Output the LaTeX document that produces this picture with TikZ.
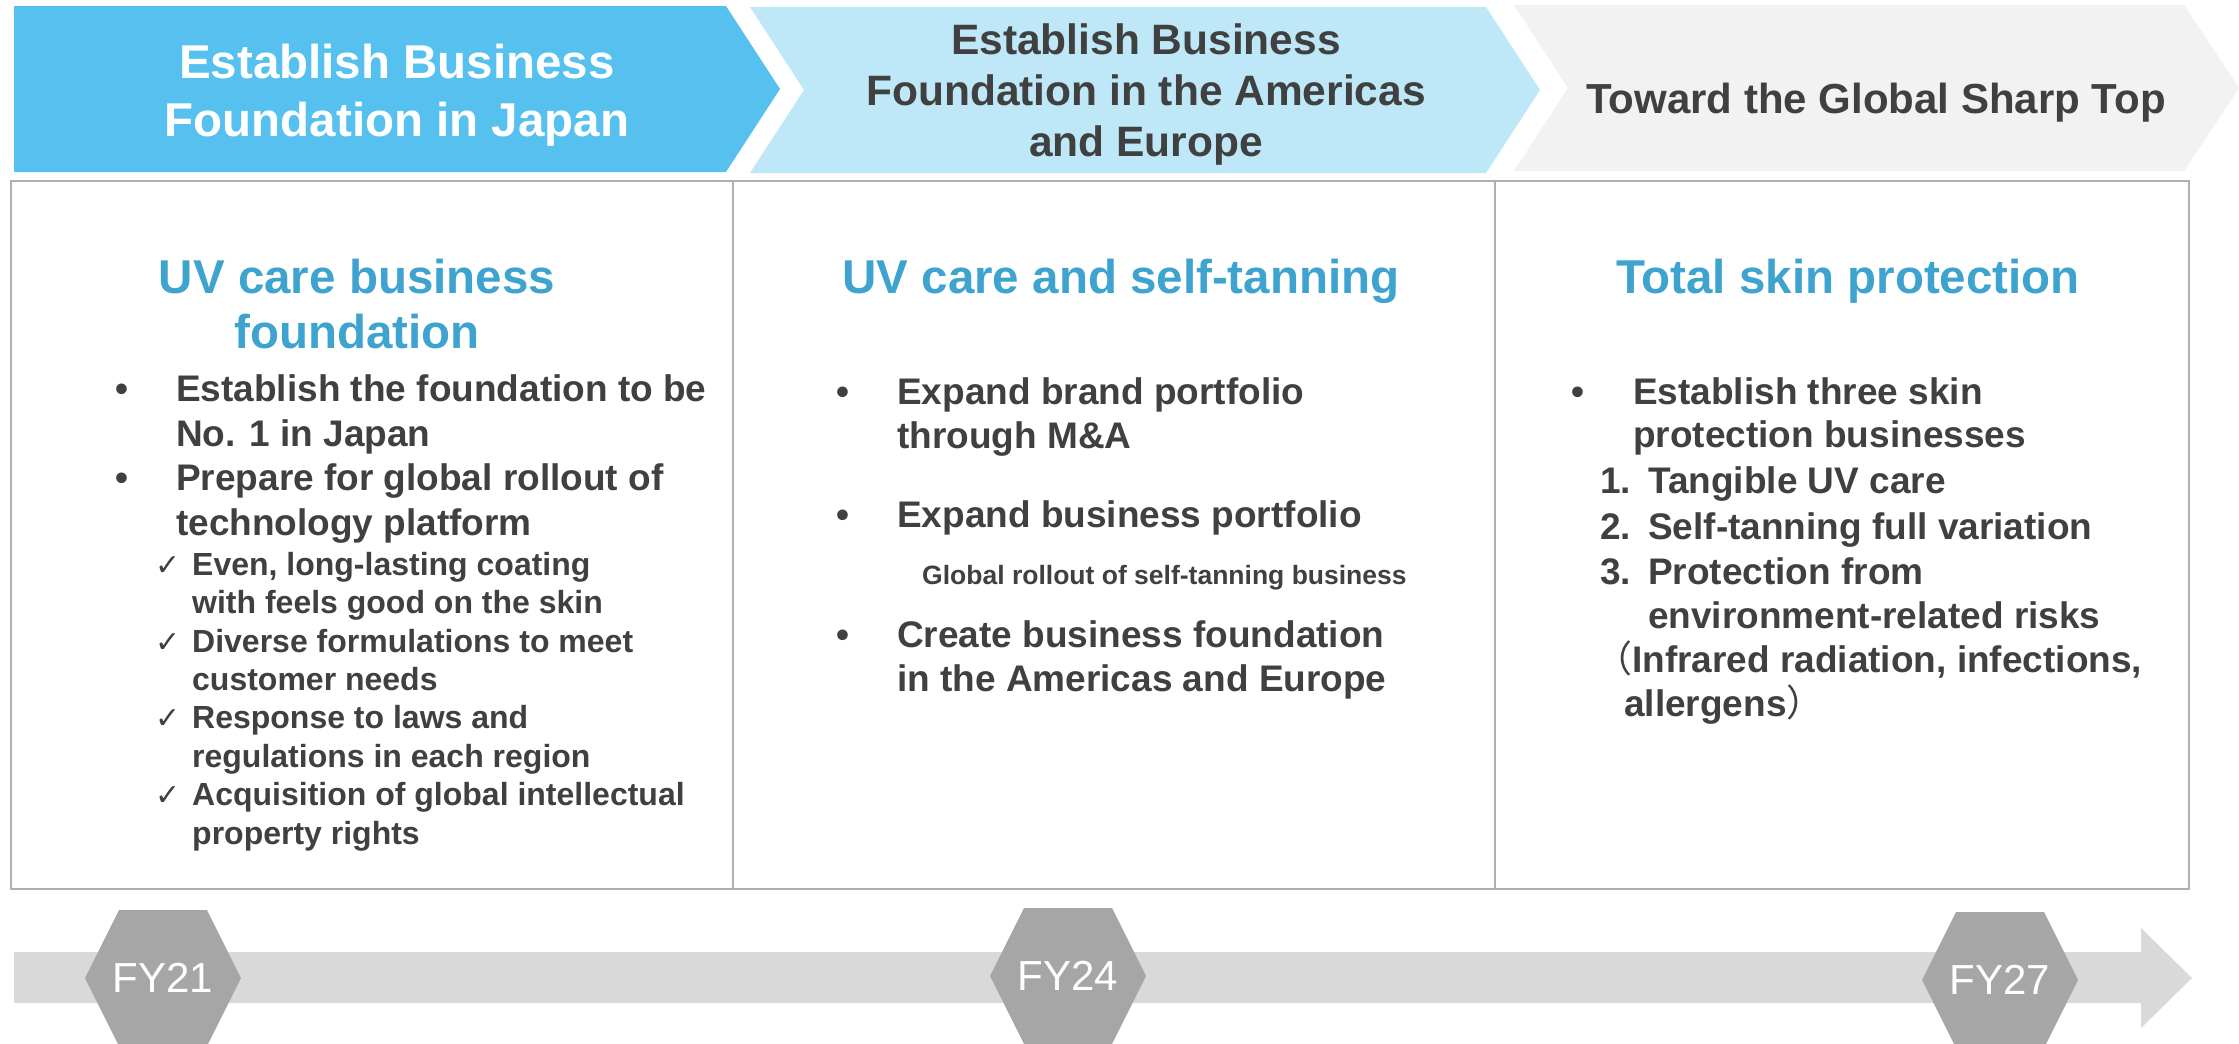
\documentclass[tikz,border=0pt]{standalone}
\usepackage{fontspec}
\setmainfont{Liberation Sans}
\newfontfamily\dejavu{DejaVu Sans}
\newfontfamily\cjk{Noto Sans CJK JP}
\definecolor{chevA}{HTML}{56C1EE}
\definecolor{chevB}{HTML}{BEE8F8}
\definecolor{chevC}{HTML}{F2F2F2}
\definecolor{headblue}{HTML}{3FA3D0}
\definecolor{txt}{HTML}{404040}
\definecolor{boxgray}{HTML}{AFAFAF}
\definecolor{tlgray}{HTML}{D9D9D9}
\definecolor{hexgray}{HTML}{A6A6A6}
\tikzset{
  chevtext/.style={anchor=base, inner sep=0pt, font=\fontsize{42.5}{51}\selectfont\bfseries, text=txt},
  headtext/.style={anchor=base, inner sep=0pt, font=\fontsize{47.5}{55}\selectfont\bfseries, text=headblue},
  bodytext/.style={anchor=base west, inner sep=0pt, font=\fontsize{37}{44}\selectfont\bfseries, text=txt},
  subtext/.style={anchor=base west, inner sep=0pt, font=\fontsize{32}{38}\selectfont\bfseries, text=txt},
  smalltext/.style={anchor=base west, inner sep=0pt, font=\fontsize{26.5}{32}\selectfont\bfseries, text=txt},
  checktext/.style={anchor=base west, inner sep=0pt, font=\dejavu\fontsize{30}{36}\selectfont, text=txt},
  fytext/.style={anchor=center, inner sep=0pt, font=\fontsize{42}{50}\selectfont, text=white},
  boxline/.style={draw=boxgray, line width=1.6pt}
}
\begin{document}
\begin{tikzpicture}[x=1pt,y=-1pt]
\useasboundingbox[fill=white] (0,0) rectangle (2239,1044);

% top chevrons
\fill[chevA] (14,6) -- (726,6) -- (780,89) -- (726,172) -- (14,172) -- cycle;
\fill[chevB] (750,7) -- (1486,7) -- (1540,90) -- (1486,173) -- (750,173) -- (804,90) -- cycle;
\fill[chevC] (1514,5) -- (2184,5) -- (2239,88) -- (2184,171) -- (1514,171) -- (1568,88) -- cycle;

\node[chevtext, text=white, font=\fontsize{47.5}{57}\selectfont\bfseries] (c1a) at (397,78) {Establish Business};
\node[chevtext, text=white, font=\fontsize{47.5}{57}\selectfont\bfseries] (c1b) at (397,136) {Foundation in Japan};
\node[chevtext] (c2a) at (1146,54) {Establish Business};
\node[chevtext] (c2b) at (1146,105) {Foundation in the Americas};
\node[chevtext] (c2c) at (1146,156) {and Europe};
\node[chevtext, font=\fontsize{42}{50}\selectfont\bfseries] (c3a) at (1876,113) {Toward the Global Sharp Top};

% content box
\draw[boxline] (11,181) rectangle (2189,889);
\draw[boxline] (733,181) -- (733,889);
\draw[boxline] (1495,181) -- (1495,889);

% headings
\node[headtext] (h1a) at (357,293) {UV care business};
\node[headtext] (h1b) at (357,348) {foundation};
\node[headtext] (h2) at (1121,293) {UV care and self-tanning};
\node[headtext] (h3) at (1848,293) {Total skin protection};

% column 1
\node[bodytext] (b1a) at (115,401) {•};
\node[bodytext] (t1a) at (176,401) {Establish the foundation to be};
\node[bodytext] (t1b) at (176,446) {No. 1 in Japan};
\node[bodytext] (b1b) at (115,490) {•};
\node[bodytext] (t1c) at (176,490) {Prepare for global rollout of};
\node[bodytext] (t1d) at (176,535) {technology platform};
\node[checktext] (k1) at (155,575) {✓};
\node[subtext] (s1a) at (192,575) {Even, long-lasting coating};
\node[subtext] (s1b) at (192,613) {with feels good on the skin};
\node[checktext] (k2) at (155,652) {✓};
\node[subtext] (s1c) at (192,652) {Diverse formulations to meet};
\node[subtext] (s1d) at (192,690) {customer needs};
\node[checktext] (k3) at (155,728) {✓};
\node[subtext] (s1e) at (192,728) {Response to laws and};
\node[subtext] (s1f) at (192,767) {regulations in each region};
\node[checktext] (k4) at (155,805) {✓};
\node[subtext] (s1g) at (192,805) {Acquisition of global intellectual};
\node[subtext] (s1h) at (192,844) {property rights};

% column 2
\node[bodytext] (b2a) at (836,404) {•};
\node[bodytext] (t2a) at (897,404) {Expand brand portfolio};
\node[bodytext] (t2b) at (897,448) {through M\&A};
\node[bodytext] (b2b) at (836,527) {•};
\node[bodytext] (t2c) at (897,527) {Expand business portfolio};
\node[smalltext] (t2d) at (922,584) {Global rollout of self-tanning business};
\node[bodytext] (b2c) at (836,647) {•};
\node[bodytext] (t2e) at (897,647) {Create business foundation};
\node[bodytext] (t2f) at (897,691) {in the Americas and Europe};

% column 3
\node[bodytext] (b3a) at (1571,404) {•};
\node[bodytext] (t3a) at (1633,404) {Establish three skin};
\node[bodytext] (t3b) at (1633,447) {protection businesses};
\node[bodytext] (n1) at (1600,493) {1.};
\node[bodytext] (t3c) at (1648,493) {Tangible UV care};
\node[bodytext] (n2) at (1600,539) {2.};
\node[bodytext] (t3d) at (1648,539) {Self-tanning full variation};
\node[bodytext] (n3) at (1600,584) {3.};
\node[bodytext] (t3e) at (1648,584) {Protection from};
\node[bodytext] (t3f) at (1648,628) {environment-related risks};
\node[bodytext] (t3g) at (1595,672) {{\cjk\mdseries （}Infrared radiation, infections,};
\node[bodytext] (t3h) at (1624,716) {allergens{\cjk\mdseries ）}};

% timeline arrow
\fill[tlgray] (14,952) -- (2141,952) -- (2141,928) -- (2192,978) -- (2141,1028) -- (2141,1003) -- (14,1003) -- cycle;

% hexagon milestones
\foreach \cx/\cy/\lab/\nm in {163/978/FY21/fyA, 1068/976/FY24/fyB, 2000/980/FY27/fyC} {
  \fill[hexgray] (\cx-78,\cy) -- (\cx-44,\cy-68) -- (\cx+44,\cy-68) -- (\cx+78,\cy) -- (\cx+44,\cy+68) -- (\cx-44,\cy+68) -- cycle;
  \node[fytext] (\nm) at (\cx,\cy) {\lab};
}
\end{tikzpicture}
\end{document}
